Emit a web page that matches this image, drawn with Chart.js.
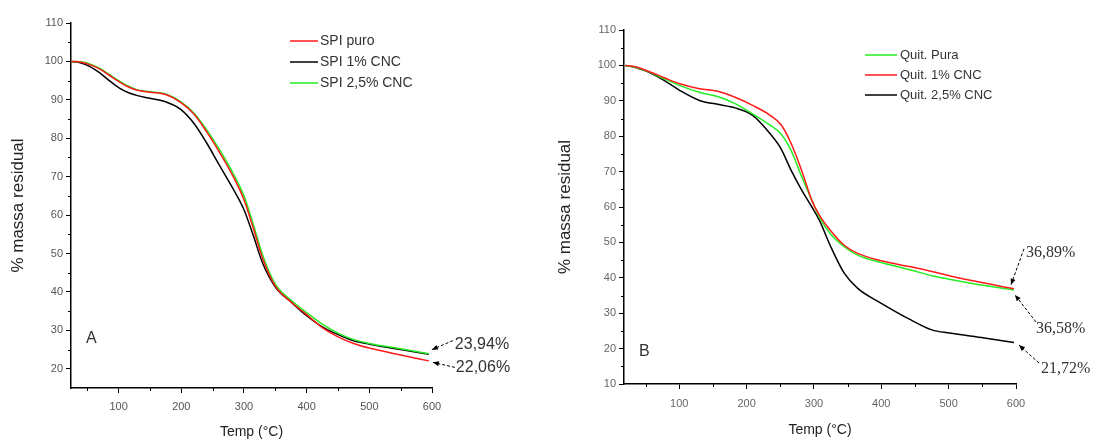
<!DOCTYPE html>
<html>
<head>
<meta charset="utf-8">
<script src="https://cdn.jsdelivr.net/npm/chart.js@4"></script>
<style>
  html, body { margin: 0; padding: 0; background: #fff; }
  #wrap { position: relative; width: 1097px; height: 441px; }
  canvas { position: absolute; top: 0; }
  #chartA { left: 0; }
  #chartB { left: 540px; }
</style>
</head>
<body>
<div id="wrap">
  <canvas id="chartA" width="540" height="441"></canvas>
  <canvas id="chartB" width="557" height="441"></canvas>
</div>
<script>
// Panel A - SPI films
const tempA = [24, 40, 55, 70, 85, 100, 115, 130, 150, 175, 200, 220, 240, 260, 280, 300, 315, 330, 350, 375, 400, 425, 450, 475, 500, 550, 595];
const spiPuro = [100, 99.8, 99.1, 98.0, 96.4, 94.8, 93.4, 92.5, 92.0, 91.4, 89.2, 86.3, 81.8, 76.6, 70.9, 64.0, 56.5, 48.6, 41.5, 37.4, 34.1, 30.7, 28.3, 26.6, 25.4, 23.6, 22.06];
const spi1Cnc = [100, 99.6, 98.6, 97.0, 95.0, 93.2, 91.9, 91.1, 90.4, 89.5, 87.4, 83.9, 78.9, 73.2, 67.6, 61.4, 54.6, 47.4, 41.3, 37.4, 33.8, 30.9, 28.9, 27.3, 26.4, 25.0, 23.8];
const spi25Cnc = [100, 99.9, 99.3, 98.2, 96.6, 95.0, 93.6, 92.6, 92.1, 91.5, 89.4, 86.6, 82.3, 77.3, 71.7, 65.0, 57.5, 49.5, 42.0, 37.9, 34.6, 31.6, 29.3, 27.6, 26.6, 25.2, 23.94];

// Panel B - chitosan films
const tempB = [20, 35, 52, 78, 101, 130, 157, 183, 209, 235, 251, 266, 282, 297, 308, 324, 345, 365, 400, 444, 475, 501, 553, 597];
const quitPura = [100, 99.5, 98.4, 96.2, 94.3, 92.4, 91.2, 89.2, 86.3, 83.1, 80.7, 76.0, 68.5, 61.9, 57.2, 52.5, 48.8, 46.4, 44.3, 42.2, 40.6, 39.6, 37.8, 36.58];
const quit1Cnc = [100, 99.6, 98.5, 96.5, 94.8, 93.4, 92.7, 91.0, 88.7, 85.9, 83.3, 78.0, 70.2, 61.8, 57.7, 53.5, 49.2, 46.9, 44.8, 43.1, 41.8, 40.6, 38.5, 36.89];
const quit25Cnc = [100, 99.4, 98.3, 95.7, 92.9, 90.1, 89.0, 88.0, 85.9, 80.7, 76.5, 70.4, 64.7, 60.0, 56.3, 49.2, 41.3, 37.0, 32.8, 28.1, 25.3, 24.4, 23.0, 21.72];

const xTicks = [100, 200, 300, 400, 500, 600];
const yTicksA = [20, 30, 40, 50, 60, 70, 80, 90, 100, 110];
const yTicksB = [10, 20, 30, 40, 50, 60, 70, 80, 90, 100, 110];

const SANS = "'Liberation Sans', Arial, sans-serif";
const SERIF = "'Liberation Serif', 'Times New Roman', serif";

function pts(xs, ys) {
  return xs.map((x, i) => ({ x: x, y: ys[i] }));
}
function halfSteps(t, min) {
  const out = t.slice(1).map((v, i) => (v + t[i]) / 2);
  const first = t[0] - (t[1] - t[0]) / 2;
  if (first > min) out.unshift(first);
  return out;
}

// minor ticks, legend, panel letter and arrow labels
const extras = {
  id: 'extras',
  afterDraw(chart, args, o) {
    const ctx = chart.ctx;
    const xs = chart.scales.x, ys = chart.scales.y;
    ctx.save();
    ctx.strokeStyle = '#000';
    ctx.lineWidth = 1;
    o.minorX.forEach(v => {
      const p = Math.round(xs.getPixelForValue(v)) + 0.5;
      ctx.beginPath(); ctx.moveTo(p, xs.top); ctx.lineTo(p, xs.top + 3); ctx.stroke();
    });
    o.minorY.forEach(v => {
      const p = Math.round(ys.getPixelForValue(v)) + 0.5;
      ctx.beginPath(); ctx.moveTo(ys.right, p); ctx.lineTo(ys.right - 3, p); ctx.stroke();
    });

    // legend
    const lg = o.legend;
    ctx.font = lg.font;
    ctx.textBaseline = 'middle';
    ctx.textAlign = 'left';
    lg.order.forEach((di, k) => {
      const ds = chart.data.datasets[di];
      const y = lg.y[k];
      ctx.strokeStyle = ds.borderColor;
      ctx.lineWidth = 1.5;
      ctx.beginPath(); ctx.moveTo(lg.x0, y); ctx.lineTo(lg.x1, y); ctx.stroke();
      ctx.fillStyle = lg.color;
      ctx.fillText(ds.label, lg.tx, y);
    });

    // panel letter
    ctx.font = o.letter.font;
    ctx.fillStyle = '#333';
    ctx.fillText(o.letter.text, o.letter.x, o.letter.y);

    // arrows with residual values
    ctx.font = o.notes.font;
    o.notes.items.forEach(n => {
      const meta = chart.getDatasetMeta(n.ds);
      const end = meta.data[meta.data.length - 1];
      const tx = end.x + n.tip[0], ty = end.y + n.tip[1];
      const sx = end.x + n.tail[0], sy = end.y + n.tail[1];
      ctx.strokeStyle = '#000';
      ctx.fillStyle = '#000';
      ctx.lineWidth = 1;
      ctx.setLineDash([3, 2]);
      ctx.beginPath(); ctx.moveTo(sx, sy); ctx.lineTo(tx, ty); ctx.stroke();
      ctx.setLineDash([]);
      const a = Math.atan2(ty - sy, tx - sx);
      ctx.beginPath();
      ctx.moveTo(tx, ty);
      ctx.lineTo(tx - 6 * Math.cos(a) + 2.5 * Math.sin(a), ty - 6 * Math.sin(a) - 2.5 * Math.cos(a));
      ctx.lineTo(tx - 6 * Math.cos(a) - 2.5 * Math.sin(a), ty - 6 * Math.sin(a) + 2.5 * Math.cos(a));
      ctx.closePath(); ctx.fill();
      ctx.fillStyle = '#333';
      ctx.fillText(n.text, end.x + n.label[0], end.y + n.label[1]);
    });
    ctx.restore();
  }
};

function axisOptions(min, max, ticks, tickFont, tickColor, xPad, width, height, titleX, titleY) {
  return {
    x: {
      type: 'linear', min: min[0], max: max[0],
      afterBuildTicks: s => { s.ticks = xTicks.map(v => ({ value: v })); },
      afterFit: s => { s.height = height; },
      grid: { drawOnChartArea: false, drawTicks: true, tickLength: 5, color: '#000', tickWidth: 1 },
      border: { color: '#000', width: 1.5 },
      ticks: { font: tickFont, color: tickColor, padding: xPad, maxRotation: 0 },
      title: titleX
    },
    y: {
      type: 'linear', min: min[1], max: max[1],
      afterBuildTicks: s => { s.ticks = ticks.map(v => ({ value: v })); },
      afterFit: s => { s.width = width; },
      grid: { drawOnChartArea: false, drawTicks: true, tickLength: 5, color: '#000', tickWidth: 1 },
      border: { color: '#000', width: 1.5 },
      ticks: { font: tickFont, color: tickColor, padding: 3 },
      title: titleY
    }
  };
}

function line(label, xs, ys, color, order) {
  return {
    label: label, data: pts(xs, ys), borderColor: color, backgroundColor: color,
    borderWidth: 1.5, pointRadius: 0, cubicInterpolationMode: 'monotone', order: order
  };
}

new Chart(document.getElementById('chartA'), {
  type: 'line',
  data: {
    datasets: [
      line('SPI puro', tempA, spiPuro, '#ff1a1a', 1),
      line('SPI 1% CNC', tempA, spi1Cnc, '#000000', 3),
      line('SPI 2,5% CNC', tempA, spi25Cnc, '#22ee22', 2)
    ]
  },
  options: {
    responsive: false, animation: false, events: [],
    layout: { padding: { left: 0, top: 23, right: 108, bottom: 0 } },
    scales: axisOptions([24, 15], [600, 110], yTicksA, { family: SANS, size: 11 }, '#555', 7, 71, 53,
      { display: true, text: 'Temp (°C)', color: '#222', font: { family: SANS, size: 14 }, padding: { top: 0, bottom: 0 } },
      { display: true, text: '% massa residual', color: '#222', font: { family: SANS, size: 17 }, padding: { top: 8, bottom: 0 } }),
    plugins: {
      legend: { display: false },
      tooltip: { enabled: false },
      extras: {
        minorX: halfSteps(xTicks, 24),
        minorY: halfSteps(yTicksA, 15),
        legend: { order: [0, 1, 2], x0: 290, x1: 318, tx: 320, y: [41, 62, 83], font: '14px ' + SANS, color: '#333' },
        letter: { text: 'A', x: 86, y: 339, font: '16px ' + SANS },
        notes: {
          font: '16px ' + SANS,
          items: [
            { ds: 2, text: '23,94%', tip: [3, -4], tail: [24, -13], label: [26, -9] },
            { ds: 0, text: '22,06%', tip: [4, 1.5], tail: [26, 6.5], label: [27, 6.5] }
          ]
        }
      }
    }
  },
  plugins: [extras]
});

new Chart(document.getElementById('chartB'), {
  type: 'line',
  data: {
    datasets: [
      line('Quit. Pura', tempB, quitPura, '#22ee22', 2),
      line('Quit. 1% CNC', tempB, quit1Cnc, '#ff1a1a', 1),
      line('Quit. 2,5% CNC', tempB, quit25Cnc, '#000000', 3)
    ]
  },
  options: {
    responsive: false, animation: false, events: [],
    layout: { padding: { left: 0, top: 30, right: 81, bottom: 0 } },
    scales: axisOptions([18, 10], [600, 110], yTicksB, { family: SANS, size: 11 }, '#666', 8, 84, 57,
      { display: true, text: 'Temp (°C)', color: '#222', font: { family: SANS, size: 14 }, padding: { top: 0, bottom: 2 } },
      { display: true, text: '% massa residual', color: '#222', font: { family: SANS, size: 17 }, padding: { top: 15, bottom: 0 } }),
    plugins: {
      legend: { display: false },
      tooltip: { enabled: false },
      extras: {
        minorX: halfSteps(xTicks, 18),
        minorY: halfSteps(yTicksB, 10),
        legend: { order: [0, 1, 2], x0: 325, x1: 357, tx: 360, y: [55, 75, 95], font: '13px ' + SANS, color: '#333' },
        letter: { text: 'B', x: 99, y: 352, font: '16px ' + SANS },
        notes: {
          font: '16px ' + SERIF,
          items: [
            { ds: 1, text: '36,89%', tip: [-3, -4], tail: [10, -40], label: [12, -36] },
            { ds: 0, text: '36,58%', tip: [1, 5], tail: [22, 32], label: [22, 39] },
            { ds: 2, text: '21,72%', tip: [5, 2.5], tail: [25, 20.5], label: [27, 26.5] }
          ]
        }
      }
    }
  },
  plugins: [extras]
});
</script>
</body>
</html>
